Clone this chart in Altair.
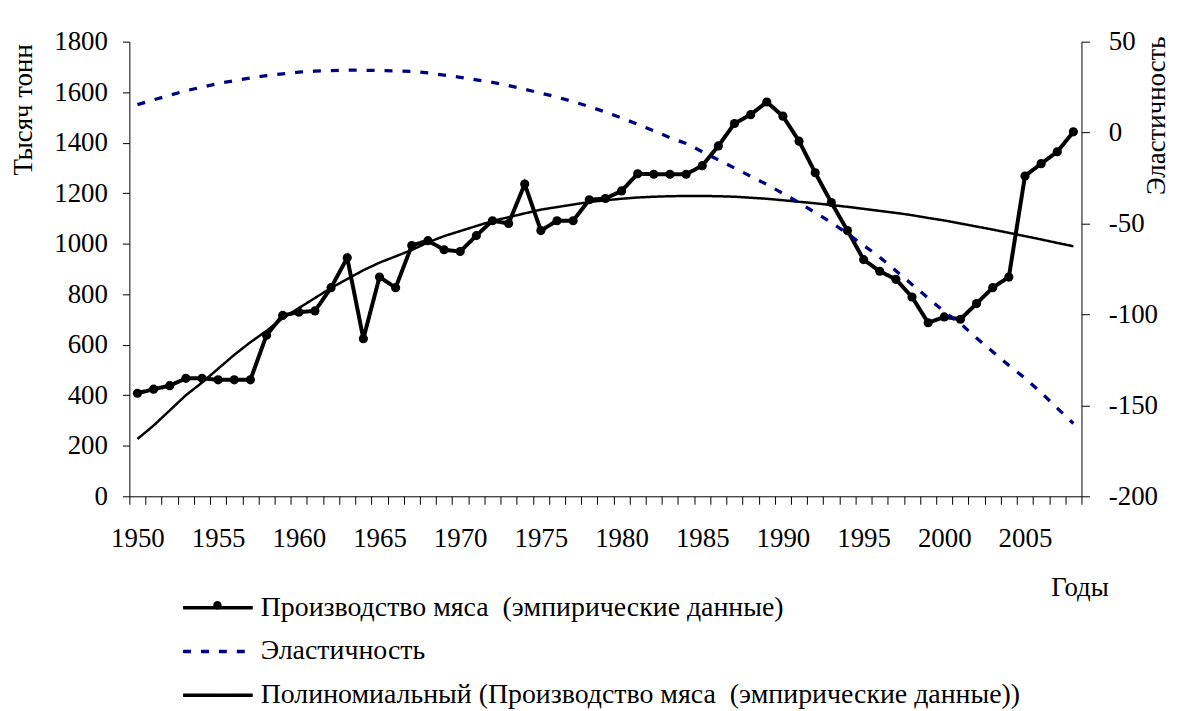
import altair as alt
import pandas as pd

years = list(range(1950, 2009))

production = [408, 424, 438, 467, 467, 461, 461, 461, 638, 716,
              729, 734, 826, 944, 624, 868, 826, 993, 1012, 976,
              969, 1032, 1091, 1080, 1236, 1052, 1091, 1091, 1174, 1179,
              1209, 1277, 1275, 1275, 1275, 1309, 1387, 1476, 1511, 1561,
              1505, 1406, 1281, 1163, 1052, 937, 891, 859, 789, 687,
              710, 701, 763, 826, 868, 1268, 1317, 1364, 1443]

trend = [227, 280, 340, 400, 450, 505, 560, 610, 655, 705,
         745, 785, 825, 860, 895, 925, 950, 975, 1005, 1030,
         1050, 1070, 1090, 1105, 1120, 1135, 1145, 1155, 1165, 1172,
         1178, 1183, 1186, 1188, 1189, 1189, 1188, 1186, 1182, 1178,
         1172, 1166, 1160, 1153, 1146, 1138, 1130, 1122, 1113, 1102,
         1092, 1080, 1068, 1056, 1043, 1030, 1017, 1003, 990]

elasticity = [15.4, 18, 20.5, 23, 25, 27, 28.5, 30, 31.3, 32.3,
              33.2, 33.8, 34.1, 34.3, 34.3, 34.1, 33.9, 33.6, 32.8, 31.6,
              30.4, 29, 27.6, 25.8, 23.8, 21.7, 19.5, 17, 14.3, 11.3,
              8, 4.6, 1, -2.8, -6, -10.5, -15, -19.5, -24, -28.5,
              -33.5, -38.5, -44, -49.5, -55.5, -62, -68.5, -76, -83.5, -91,
              -98.5, -105, -113, -120.5, -128, -135, -143, -151.5, -160]

S1 = "Производство мяса \u00a0(эмпирические данные)"
S2 = "Эластичность"
S3 = "Полиномиальный (Производство мяса \u00a0(эмпирические данные))"
series_order = [S1, S2, S3]

df_prod = pd.DataFrame({"year": years, "value": production, "series": S1, "marker": "точки"})
df_trend = pd.DataFrame({"year": years, "value": trend, "series": S3})
df_el = pd.DataFrame({"year": years, "value": elasticity, "series": S2})

FONT = "Liberation Serif"
FS = 27

legend = alt.Legend(
    orient="none", legendX=59, legendY=539, direction="vertical", title=None,
    symbolType="M-1.25,0L1.25,0", symbolSize=3136, symbolStrokeWidth=3.5,
    labelFont=FONT, labelFontSize=28, labelColor="black", rowPadding=0,
    labelOffset=13, labelLimit=900,
)

color = alt.Color("series:N", scale=alt.Scale(domain=series_order,
                  range=["black", "#000080", "black"]), legend=legend)
dash = alt.StrokeDash("series:N", scale=alt.Scale(domain=series_order,
                      range=[[1, 0], [8, 10], [1, 0]]), legend=legend)

dot_legend = alt.Legend(
    orient="none", legendX=84, legendY=562, title=None,
    symbolType="circle", symbolSize=70, symbolFillColor="black",
    symbolStrokeColor="black", symbolStrokeWidth=0, symbolOpacity=1,
    labelOpacity=0, labelFontSize=1,
)

x = alt.X("year:O",
          scale=alt.Scale(type="band", paddingInner=0, paddingOuter=0),
          axis=alt.Axis(title="Годы", labelExpr="datum.value % 5 == 0 ? datum.label : ''",
                        labelAngle=0, labelOverlap=False, tickBand="extent",
                        tickSize=8, tickColor="black", domainColor="black",
                        labelFont=FONT, labelFontSize=FS, labelColor="black",
                        labelPadding=21, labelBaseline="top",
                        titleFont=FONT, titleFontSize=FS, titleFontWeight="normal",
                        titleColor="black", titleAnchor="end", titleAlign="right",
                        titleX=984, titleY=100, titleBaseline="alphabetic"))

y_left = alt.Y("value:Q",
               scale=alt.Scale(domain=[0, 1800], nice=False, zero=False),
               axis=alt.Axis(title="Тысяч тонн", orient="left",
                             labelExpr="'' + datum.value",
                             values=list(range(0, 1801, 200)), grid=False,
                             tickSize=7, tickColor="black", domainColor="black",
                             labelFont=FONT, labelFontSize=FS, labelColor="black",
                             labelPadding=15,
                             titleFont=FONT, titleFontSize=FS, titleFontWeight="normal",
                             titleColor="black", titleAngle=-90, titleAlign="center",
                             titleBaseline="alphabetic", titleX=-98, titleY=68))

y_right = alt.Y("value:Q",
                scale=alt.Scale(domain=[-200, 50], nice=False, zero=False),
                axis=alt.Axis(title="Эластичность", orient="right",
                              labelExpr="'' + datum.value",
                              values=list(range(-200, 51, 50)), grid=False,
                              tickSize=8, tickColor="black", domainColor="black",
                              labelFont=FONT, labelFontSize=FS, labelColor="black",
                              labelPadding=19,
                              titleFont=FONT, titleFontSize=FS, titleFontWeight="normal",
                              titleColor="black", titleAngle=-90, titleAlign="center",
                              titleBaseline="alphabetic", titleX=83, titleY=74))

prod_line = alt.Chart(df_prod).mark_line(strokeWidth=4).encode(
    x=x, y=y_left, color=color, strokeDash=dash)
prod_pts = alt.Chart(df_prod).mark_point(filled=True, size=85, opacity=1, color="black").encode(
    x=x, y=y_left,
    shape=alt.Shape("marker:N", scale=alt.Scale(range=["circle"]), legend=dot_legend))
trend_line = alt.Chart(df_trend).mark_line(strokeWidth=2.5).encode(
    x=x, y=y_left, color=color, strokeDash=dash)
left = alt.layer(prod_line, prod_pts, trend_line)

el_line = alt.Chart(df_el).mark_line(strokeWidth=3.3, strokeCap="butt").encode(
    x=x, y=y_right, color=color, strokeDash=dash)

chart = alt.layer(left, el_line).resolve_scale(y="independent").properties(
    width=957, height=457,
    autosize=alt.AutoSizeParams(type="none"),
    padding={"left": 122, "top": 32, "right": 90, "bottom": 214},
).configure(background="white", font=FONT).configure_view(stroke=None).configure_axis(
    labelFont=FONT, titleFont=FONT).configure_legend(labelFont=FONT)

chart.save("out.html", embed_options={"renderer": "svg", "actions": False})
